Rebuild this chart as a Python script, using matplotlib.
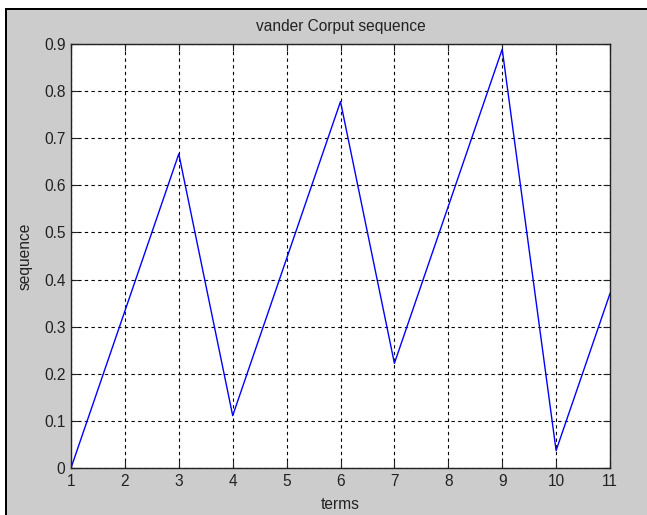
import numpy as np
from matplotlib import pyplot as plt
from matplotlib.patches import Rectangle

terms = [1, 2, 3, 4, 5, 6, 7, 8, 9, 10, 11]
sequence = [0, 1/3, 2/3, 1/9, 4/9, 7/9, 2/9, 5/9, 8/9, 1/27, 10/27]
xticks = list(range(1, 12))
yticks = [0, 0.1, 0.2, 0.3, 0.4, 0.5, 0.6, 0.7, 0.8, 0.9]

plt.rcParams["font.family"] = ["Liberation Sans", "DejaVu Sans"]
plt.rcParams["font.size"] = 11.2

W, H = 647, 515
fig = plt.figure(figsize=(W / 100, H / 100), dpi=100, facecolor='white')

# window frame: grey panel with dark edge on top and left
fig.add_artist(Rectangle((7 / W, 0), 1 - 7 / W + 0.01, 1 - 10 / H,
                         transform=fig.transFigure, facecolor='#cccccc',
                         edgecolor='none', zorder=-2))
fig.add_artist(Rectangle((5 / W, 1 - 10 / H), 1 - 5 / W + 0.01, 2.5 / H,
                         transform=fig.transFigure, facecolor='black',
                         edgecolor='none', zorder=-1))
fig.add_artist(Rectangle((5 / W, -0.01), 2.2 / W, 1 - 8 / H + 0.01,
                         transform=fig.transFigure, facecolor='black',
                         edgecolor='none', zorder=-1))

ax = fig.add_axes([71 / W, 1 - 468 / H, (610 - 71) / W, (468 - 44) / H])
ax.set_zorder(5)
ax.plot(terms, sequence, color='blue', linewidth=1.0)

ax.set_xlim(1, 11)
ax.set_ylim(0, 0.9)
ax.set_xticks(xticks)
ax.set_yticks(yticks)
ax.set_yticklabels(['0', '0.1', '0.2', '0.3', '0.4', '0.5', '0.6', '0.7', '0.8', '0.9'])
ax.grid(True, color='black', linestyle=(0, (3, 3)), linewidth=0.8)
ax.tick_params(direction='in', length=5, top=True, right=True, colors='#222222',
               labelsize=11.2, pad=4)
for s in ax.spines.values():
    s.set_linewidth(1.0)
    s.set_color('#222222')

ax.set_title('vander Corput sequence', fontsize=11.2, color='#222222', pad=9)
ax.set_xlabel('terms', color='#222222', labelpad=6)
ax.set_ylabel('sequence', color='#222222', labelpad=8)

fig.savefig('out.png', dpi=100)
